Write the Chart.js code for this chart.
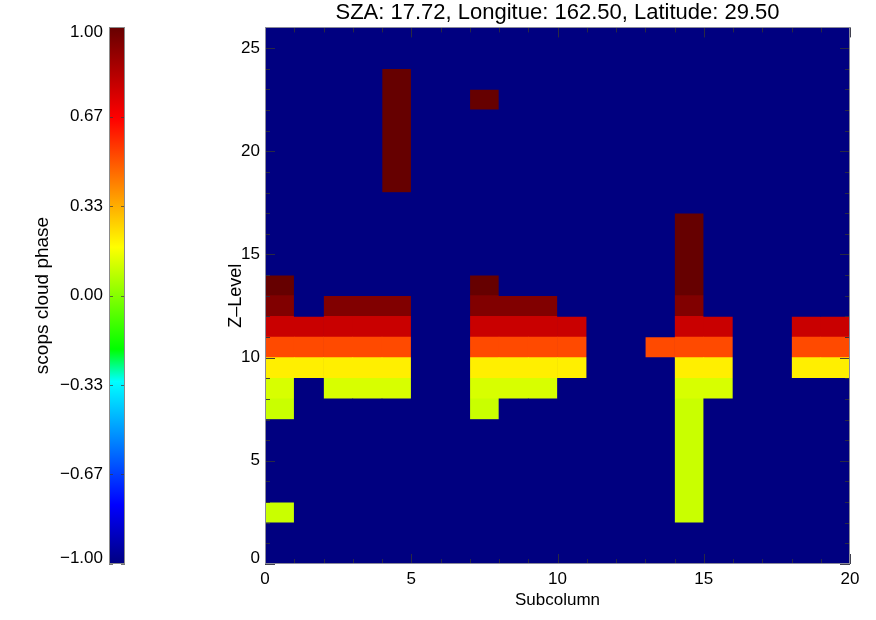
<!DOCTYPE html>
<html><head><meta charset="utf-8">
<script src="https://cdn.jsdelivr.net/npm/chart.js@4.4.1/dist/chart.umd.min.js"></script>
<style>
html,body{margin:0;padding:0;background:#fff;}
#wrap{position:relative;width:876px;height:620px;overflow:hidden;}
#main,#cbar{position:absolute;left:0;top:0;}
</style></head><body>
<div id="wrap"><canvas id="main" width="876" height="620"></canvas><canvas id="cbar" width="140" height="620"></canvas></div>
<script>
// ---- texts ----
const titleText = 'SZA: 17.72, Longitue: 162.50, Latitude: 29.50';
const xTitle = 'Subcolumn';
const yTitle = 'Z\u2013Level';
const cbarTitle = 'scops cloud phase';

// ---- ticks ----
const xTickValues = [0, 5, 10, 15, 20];
const yTickValues = [0, 5, 10, 15, 20, 25];
const cbarTickValues = [-1, -2/3, -1/3, 0, 1/3, 2/3, 1];
const cbarTickLabels = ['\u22121.00', '\u22120.67', '\u22120.33', '0.00', '0.33', '0.67', '1.00'];
const xRange = [0, 20];
const yRange = [0, 26];

// ---- data: phase level per code digit ----
const phaseLevels = [-1.00, 0.10, 0.12, 0.21, 0.52, 0.78, 0.94, 1.00];
// one string per subcolumn (1..20), char r = Z-level r (0..25), digit = index into phaseLevels
const subcolumnPhase = [
  "00100001234567000000000000", // 1
  "00000000034500000000000000", // 2
  "00000000234560000000000000", // 3
  "00000000234560000000000000", // 4
  "00000000234560000077777700", // 5
  "00000000000000000000000000", // 6
  "00000000000000000000000000", // 7
  "00000001234567000000007000", // 8
  "00000000234560000000000000", // 9
  "00000000234560000000000000", // 10
  "00000000034500000000000000", // 11
  "00000000000000000000000000", // 12
  "00000000000000000000000000", // 13
  "00000000004000000000000000", // 14
  "00111111234567777000000000", // 15
  "00000000234500000000000000", // 16
  "00000000000000000000000000", // 17
  "00000000000000000000000000", // 18
  "00000000034500000000000000", // 19
  "00000000034500000000000000"  // 20
];

// ---- colour map (value -> colour) ----
const cmapValues = [-1.00, -0.78, -0.32, -0.20, 0.18, 0.66, 1.00];
const cmapColors = ['#000080', '#0000ff', '#00ffff', '#00ff00', '#ffff00', '#ff0000', '#660000'];

const FONT = '"Liberation Sans", Arial, Helvetica, sans-serif';
const TXT = '#000000';

function hexToRgb(h){ return [parseInt(h.slice(1,3),16), parseInt(h.slice(3,5),16), parseInt(h.slice(5,7),16)]; }
function cmap(v){
  if (v <= cmapValues[0]) return cmapColors[0];
  for (let i = 1; i < cmapValues.length; i++) {
    if (v <= cmapValues[i]) {
      const f = (v - cmapValues[i-1]) / (cmapValues[i] - cmapValues[i-1]);
      const a = hexToRgb(cmapColors[i-1]), b = hexToRgb(cmapColors[i]);
      const c = a.map((x, k) => Math.round(x + (b[k] - x) * f));
      return 'rgb(' + c.join(',') + ')';
    }
  }
  return cmapColors[cmapColors.length - 1];
}

// ---- build one bar dataset per phase level, merging vertical runs ----
const datasets = phaseLevels.map((lv, li) => {
  const data = [];
  subcolumnPhase.forEach((col, ci) => {
    let start = null;
    for (let r = 0; r <= col.length; r++) {
      const code = r < col.length ? +col[r] : -1;
      if (code === li && start === null) start = r;
      if (code !== li && start !== null) { data.push({ x: ci + 0.5, y: [start, r] }); start = null; }
    }
  });
  return {
    label: String(lv), data,
    backgroundColor: cmap(lv), borderWidth: 0, borderSkipped: false,
    grouped: false, barPercentage: 1, categoryPercentage: 1
  };
});

// ---- plugins ----
const areaFill = {
  id: 'areaFill',
  beforeDatasetsDraw(chart) {
    const { ctx, chartArea: a } = chart;
    ctx.save();
    ctx.fillStyle = cmap(phaseLevels[0]);
    ctx.fillRect(a.left, a.top, a.width, a.height);
    ctx.restore();
  }
};

const innerTicks = {
  id: 'innerTicks',
  afterDatasetsDraw(chart) {
    const { ctx, chartArea: a, scales: { x, y } } = chart;
    ctx.save();
    ctx.strokeStyle = 'rgba(45,45,60,0.9)';
    ctx.lineWidth = 1;
    ctx.beginPath();
    for (let v = xRange[0]; v <= xRange[1]; v++) {
      const px = Math.round(x.getPixelForValue(v)) + 0.5;
      const len = xTickValues.includes(v) ? 10 : 5;
      ctx.moveTo(px, a.bottom); ctx.lineTo(px, a.bottom - len);
      ctx.moveTo(px, a.top); ctx.lineTo(px, a.top + len);
    }
    for (let v = yRange[0]; v <= yRange[1]; v++) {
      const py = Math.round(y.getPixelForValue(v)) + 0.5;
      const len = yTickValues.includes(v) ? 10 : 5;
      ctx.moveTo(a.left, py); ctx.lineTo(a.left + len, py);
      ctx.moveTo(a.right, py); ctx.lineTo(a.right - len, py);
    }
    ctx.stroke();
    ctx.strokeStyle = '#8a8a9a';
    ctx.strokeRect(Math.round(a.left) + 0.5, Math.round(a.top) + 0.5, Math.round(a.width) - 1, Math.round(a.height) - 1);
    ctx.restore();
  }
};

const cbarFrame = {
  id: 'cbarFrame',
  afterDatasetsDraw(chart) {
    const { ctx, chartArea: a, scales: { y } } = chart;
    ctx.save();
    ctx.strokeStyle = 'rgba(60,60,60,0.7)';
    ctx.lineWidth = 1;
    ctx.beginPath();
    cbarTickValues.forEach(v => {
      const py = Math.round(y.getPixelForValue(v)) + 0.5;
      ctx.moveTo(a.left, py); ctx.lineTo(a.left + 4, py);
      ctx.moveTo(a.right, py); ctx.lineTo(a.right - 4, py);
    });
    ctx.stroke();
    ctx.strokeStyle = '#8a8a8a';
    ctx.strokeRect(Math.round(a.left) + 0.5, Math.round(a.top) + 0.5, Math.round(a.width) - 1, Math.round(a.height) - 1);
    ctx.restore();
  }
};

// end labels sit slightly inside the axis ends (as in the original plot)
function nudgeEnds(values, lo, hi, amount) {
  return values.map(v => ({ value: v === lo ? v + amount : (v === hi ? v - amount : v) }));
}

// ---- main heat map ----
new Chart(document.getElementById('main'), {
  type: 'bar',
  data: { datasets },
  options: {
    responsive: false, animation: false, devicePixelRatio: 1,
    layout: { padding: { left: 0, right: 26, top: 0, bottom: 0 } },
    plugins: {
      legend: { display: false },
      tooltip: { enabled: false },
      title: {
        display: true, text: titleText, fullSize: false, color: TXT,
        font: { family: FONT, size: 22, weight: 'normal' },
        padding: { top: 0, bottom: 1 }
      }
    },
    scales: {
      x: {
        type: 'linear', min: xRange[0], max: xRange[1], offset: false,
        grid: { display: false, drawTicks: false, offset: false },
        border: { display: false },
        afterBuildTicks: s => { s.ticks = xTickValues.map(v => ({ value: v })); },
        afterFit: s => { s.height = 56; },
        ticks: { padding: 5, color: TXT, font: { family: FONT, size: 17 }, maxRotation: 0, autoSkip: false },
        title: { display: true, text: xTitle, color: TXT, font: { family: FONT, size: 17 }, padding: { top: 0, bottom: 9 } }
      },
      y: {
        type: 'linear', min: yRange[0], max: yRange[1],
        grid: { display: false, drawTicks: false },
        border: { display: false },
        afterBuildTicks: s => { s.ticks = yTickValues.map(v => ({ value: v === yRange[0] ? v + 0.28 : v })); },
        afterFit: s => { s.width = 265; },
        ticks: { padding: 5, color: TXT, font: { family: FONT, size: 17 }, autoSkip: false,
                 callback: (v, i) => String(yTickValues[i]) },
        title: { display: true, text: yTitle, color: TXT, font: { family: FONT, size: 18 }, padding: { top: 225, bottom: 0 } }
      }
    }
  },
  plugins: [areaFill, innerTicks]
});

// ---- colour bar ----
new Chart(document.getElementById('cbar'), {
  type: 'bar',
  data: {
    labels: [''],
    datasets: [{
      data: [[cbarTickValues[0], cbarTickValues[cbarTickValues.length - 1]]],
      backgroundColor: (c) => {
        const area = c.chart.chartArea;
        if (!area) return cmapColors[0];
        const g = c.chart.ctx.createLinearGradient(0, area.bottom, 0, area.top);
        cmapValues.forEach((v, i) => g.addColorStop((v + 1) / 2, cmapColors[i]));
        return g;
      },
      borderWidth: 0, borderSkipped: false, barPercentage: 1, categoryPercentage: 1
    }]
  },
  options: {
    responsive: false, animation: false, devicePixelRatio: 1,
    layout: { padding: { left: 0, right: 15, top: 27, bottom: 56 } },
    plugins: { legend: { display: false }, tooltip: { enabled: false }, title: { display: false } },
    scales: {
      x: { display: false },
      y: {
        type: 'linear', min: -1, max: 1,
        grid: { display: false, drawTicks: false },
        border: { display: false },
        afterBuildTicks: s => { s.ticks = nudgeEnds(cbarTickValues, -1, 1, 0.02); },
        afterFit: s => { s.width = 109; },
        ticks: {
          padding: 6, color: TXT, font: { family: FONT, size: 17 }, autoSkip: false,
          callback: (v, i) => cbarTickLabels[i]
        },
        title: { display: true, text: cbarTitle, color: TXT, font: { family: FONT, size: 19 }, padding: { top: 31, bottom: 0 } }
      }
    }
  },
  plugins: [cbarFrame]
});
</script>
</body></html>
